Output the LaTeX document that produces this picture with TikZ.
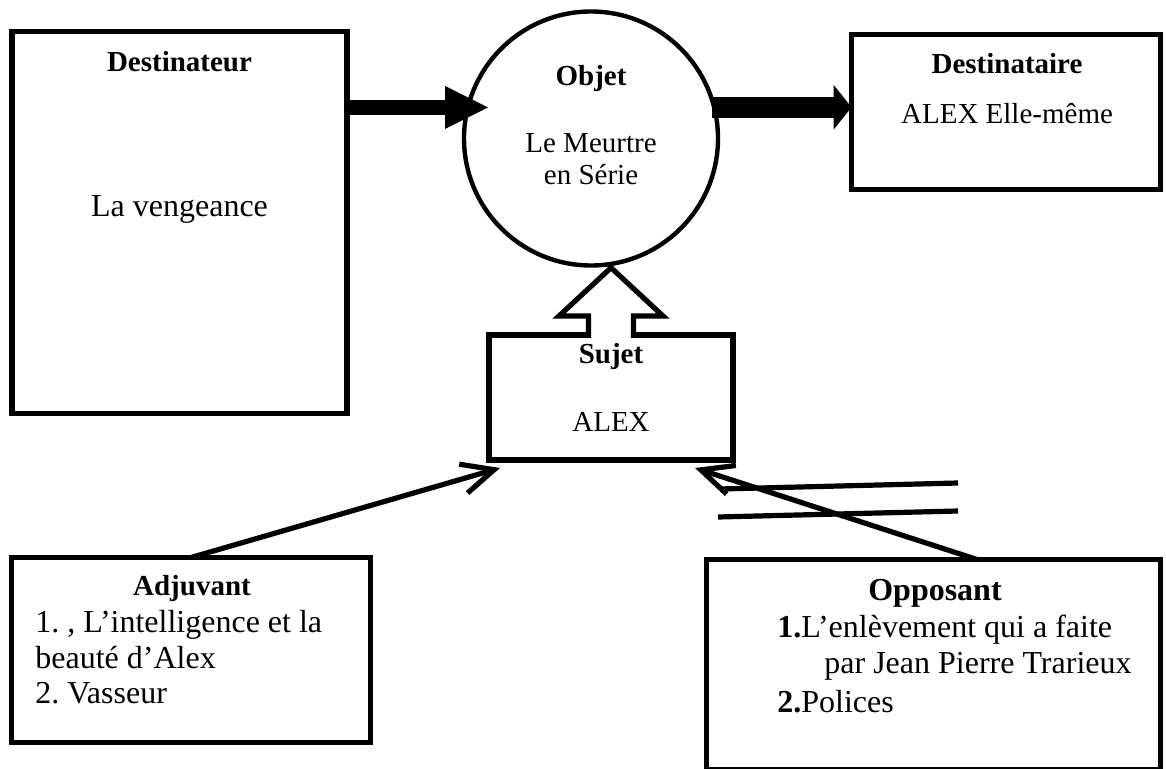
\documentclass[tikz,border=0pt]{standalone}
\usepackage{fontspec}
\setmainfont{Liberation Serif}
\usetikzlibrary{arrows.meta, calc}
\frenchspacing

\begin{document}
\begin{tikzpicture}[x=0.5pt, y=-0.5pt,
    box/.style={draw, rectangle, line width=2.8pt, inner sep=0pt, outer sep=0pt},
    ttl/.style={font=\fontsize{14.5}{17}\selectfont\bfseries, anchor=base, inner sep=0pt},
    txt/.style={font=\fontsize{14.5}{17}\selectfont, anchor=base, inner sep=0pt},
    big/.style={font=\fontsize{16}{18}\selectfont, anchor=base, inner sep=0pt},
    barb/.style={line width=2.6pt, -{Straight Barb[length=16pt,width=15pt]}}]
            \useasboundingbox (0,0) rectangle (1166,769);
            \clip (0,0) rectangle (1166,769);

            \node[box, minimum width=167.5pt, minimum height=191pt] (dest) at (179.5,222.5) {};
            \node[draw, circle, line width=2.2pt, minimum size=127pt, inner sep=0pt] (obj) at (591,138.5) {};
            \node[box, minimum width=154.5pt, minimum height=77.5pt] (dstr) at (1006,112) {};
            \node[box, minimum width=122pt, minimum height=62.5pt] (suj) at (611,397.5) {};
            \node[box, minimum width=179.5pt, minimum height=92.5pt] (adj) at (191,650) {};
            \node[box, minimum width=227pt, minimum height=105.25pt] (opp) at (933.5,664.75) {};

            \node[ttl] (destT) at (179.5,72) {Destinateur};
            \node[big] (destV) at (179.5,217) {La vengeance};
            \node[ttl] (objT) at (591,86) {Objet};
            \node[txt] (objV1) at (591,153) {Le Meurtre};
            \node[txt] (objV2) at (591,185) {en Série};
            \node[ttl] (dstrT) at (1007,74) {Destinataire};
            \node[txt] (dstrV) at (1007,124) {ALEX Elle-même};
            \node[ttl] (sujT) at (611,364) {Sujet};
            \node[txt] (sujV) at (611,432) {ALEX};
            \node[ttl] (adjT) at (192,595) {Adjuvant};
            \node[big, anchor=base west] (adj1) at (35,632) {1. , L’intelligence et la};
            \node[big, anchor=base west] (adj2) at (35,668) {beauté d’Alex};
            \node[big, anchor=base west] (adj3) at (35,703) {2. Vasseur};
            \node[big, font=\fontsize{16}{18}\selectfont\bfseries] (oppT) at (935,600) {Opposant};
            \node[big, anchor=base west] (opp1) at (777,637) {\textbf{1.}L’enlèvement qui a faite};
            \node[big, anchor=base west] (opp2) at (824,673) {par Jean Pierre Trarieux};
            \node[big, anchor=base west] (opp3) at (777,712) {\textbf{2.}Polices};

            % fat arrows
            \coordinate (ha) at (488,107.5);
            \draw[line width=7.5pt, -{Triangle[length=21.5pt,width=21.5pt,line width=0pt]}] (dest.east |- ha) -- (ha);
            \draw[line width=10.5pt, shorten <=-2pt, -{Triangle[length=9pt,width=22.5pt,line width=0pt]}] (obj.14) -- (dstr.west |- obj.14);

            % sujet -> objet
            \draw[line width=2.6pt, fill=white, line join=miter] ($(suj.north)+(-22.5,3)$) -- ++(0,-22) -- ++(-29.5,0)
                -- (suj.north |- obj.south) -- ($(suj.north)+(52,-19)$) -- ++(-29.5,0) -- ++(0,22);

            \draw[barb] (adj.north) -- ([shift={(11,8)}]suj.south west);
            \draw[barb] ($(opp.north)+(43.5,0)$) -- ([shift={(-38,8)}]suj.south east);
            \draw[line width=2.6pt] (720,489) -- (958,483);
            \draw[line width=2.6pt] (718,517) -- (958,511);
\end{tikzpicture}
\end{document}
